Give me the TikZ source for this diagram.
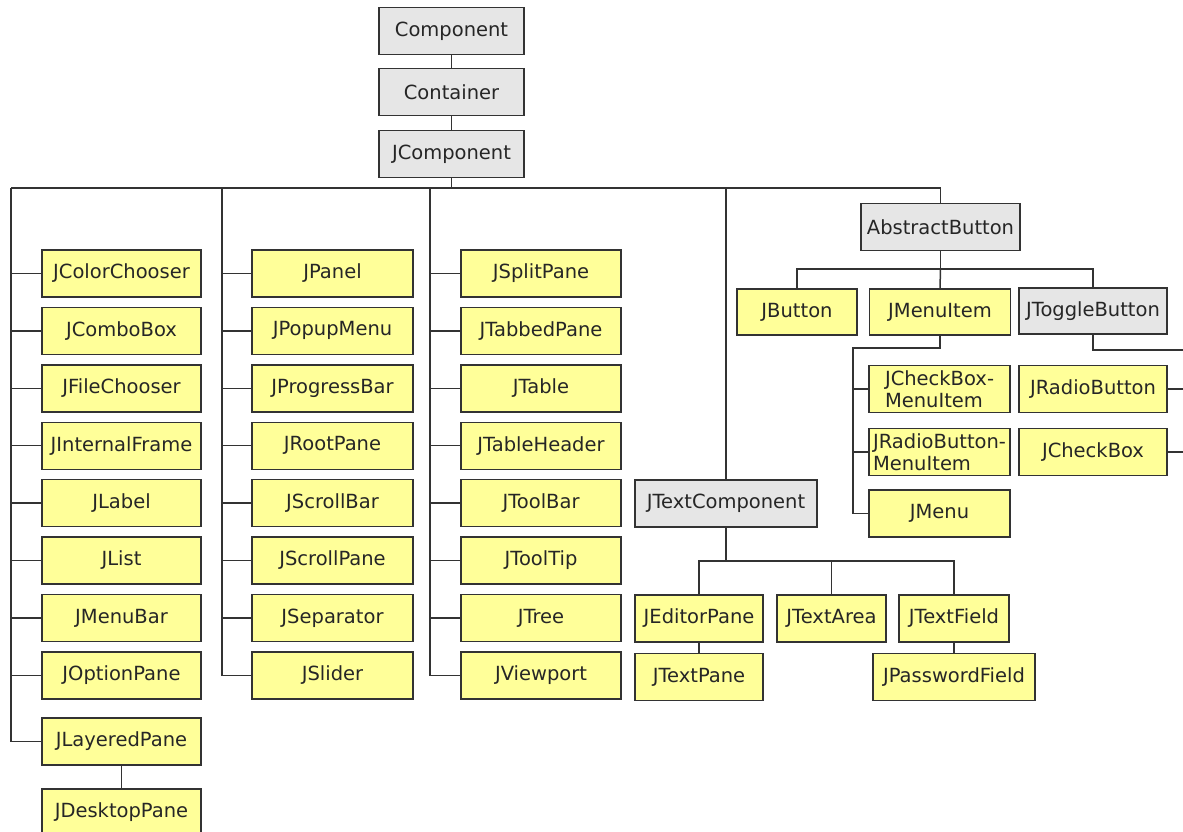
\documentclass[tikz,border=0pt]{standalone}
\usepackage{fontspec}
\newfontfamily\classfont{DejaVu Sans}
\definecolor{classyellow}{RGB}{255,255,153}
\definecolor{classgray}{RGB}{230,230,230}
\definecolor{edgegray}{RGB}{51,51,51}
\tikzset{
  cls/.style={draw=edgegray, line width=1.4pt, inner sep=0pt, minimum height=47pt,
    text=black!85, font=\classfont\fontsize{19.5}{21}\selectfont},
  ybox/.style={cls, fill=classyellow},
  gbox/.style={cls, fill=classgray},
  link/.style={draw=edgegray, line width=1.5pt}
}

\begin{document}
\begin{tikzpicture}[x=1pt,y=-1pt]
        \useasboundingbox[fill=white] (0,0) rectangle (1183,832);
        % top of the hierarchy
        \node[gbox, minimum width=145pt] (comp) at (451.5,31) {Component};
        \node[gbox, minimum width=145pt] (cont) at (451.5,92) {Container};
        \node[gbox, minimum width=145pt] (jcomp) at (451.5,154) {JComponent};
        \draw[link] (comp) -- (cont);
        \draw[link] (cont) -- (jcomp);
        \coordinate (bus) at (451.5,188);
        \coordinate (t1) at (11,188);
        \coordinate (t2) at (222,188);
        \coordinate (t3) at (430,188);
        \coordinate (t4) at (726,188);
        \coordinate (t5) at (940.5,188);
        \draw[link] (jcomp.south) -- (bus);
        \draw[link] (t1) -- (t5);

        % three plain columns
        \foreach \t [count=\i from 0] in {JColorChooser,JComboBox,JFileChooser,JInternalFrame,JLabel,JList,JMenuBar,JOptionPane}
        {
        \node[ybox, minimum width=159pt] (a\i) at (121.5,273.5+57.4*\i) {\t};
        \draw[link] (a\i.west) -- (a\i.west -| t1);
        }
        \foreach \t [count=\i from 0] in {JPanel,JPopupMenu,JProgressBar,JRootPane,JScrollBar,JScrollPane,JSeparator,JSlider}
        {
        \node[ybox, minimum width=161pt] (b\i) at (332.5,273.5+57.4*\i) {\t};
        \draw[link] (b\i.west) -- (b\i.west -| t2);
        }
        \foreach \t [count=\i from 0] in {JSplitPane,JTabbedPane,JTable,JTableHeader,JToolBar,JToolTip,JTree,JViewport}
        {
        \node[ybox, minimum width=160pt] (c\i) at (541,273.5+57.4*\i) {\t};
        \draw[link] (c\i.west) -- (c\i.west -| t3);
        }
        \node[ybox, minimum width=159pt] (lay) at (121.5,741.5) {JLayeredPane};
        \node[ybox, minimum width=159pt] (desk) at (121.5,812.5) {JDesktopPane};
        \draw[link] (lay) -- (desk);
        \draw[link] (t1) |- (lay.west);
        \draw[link] (t2) |- (b7.west);
        \draw[link] (t3) |- (c7.west);

        % text components
        \node[gbox, minimum width=182pt] (text) at (726,503.5) {JTextComponent};
        \draw[link] (t4) -- (text.north);
        \node[ybox, minimum width=128pt] (edit) at (699,618.5) {JEditorPane};
        \node[ybox, minimum width=109pt] (area) at (831.5,618.5) {JTextArea};
        \node[ybox, minimum width=110pt] (field) at (954,618.5) {JTextField};
        \node[ybox, minimum width=128pt] (tpane) at (699,677) {JTextPane};
        \node[ybox, minimum width=162pt] (pass) at (954,677) {JPasswordField};
        \coordinate (tbus) at (726,561);
        \draw[link] (text.south) -- (tbus);
        \draw[link] (edit.north) |- (field.north |- tbus) -- (field.north);
        \draw[link] (area.north) -- (area.north |- tbus);
        \draw[link] (edit) -- (tpane);
        \draw[link] (field) -- (pass);

        % buttons
        \node[gbox, minimum width=159pt] (abs) at (940.5,227) {AbstractButton};
        \draw[link] (t5) -- (abs.north);
        \node[ybox, minimum width=120pt, minimum height=46pt] (btn) at (797,312) {JButton};
        \node[ybox, minimum width=141pt, minimum height=46pt] (mitem) at (940,312) {JMenuItem};
        \node[gbox, minimum width=148pt, minimum height=46pt] (toggle) at (1093,311) {JToggleButton};
        \coordinate (bbus) at (940.5,269);
        \draw[link] (abs.south) -- (bbus);
        \draw[link] (btn.north) |- (toggle.north |- bbus) -- (toggle.north);
        \draw[link] (bbus) -- (mitem.north);
        \node[ybox, minimum width=141pt, align=left] (cbmi) at (939.5,389) {JCheckBox-\\[1pt]MenuItem};
        \node[ybox, minimum width=141pt, align=left] (rbmi) at (939.5,452) {JRadioButton-\\[1pt]MenuItem\hspace*{30pt}};
        \node[ybox, minimum width=141pt] (menu) at (939.5,513.5) {JMenu};
        \coordinate (mtrunk) at (853,348);
        \draw[link] (mitem.south) |- (mtrunk) |- (menu.west);
        \draw[link] (cbmi.west) -- (cbmi.west -| mtrunk);
        \draw[link] (rbmi.west) -- (rbmi.west -| mtrunk);
        \node[ybox, minimum width=148pt] (radio) at (1093,389) {JRadioButton};
        \node[ybox, minimum width=148pt] (check) at (1093,452) {JCheckBox};
        \coordinate (ttrunk) at (1190,350);
        \draw[link] (toggle.south) |- (ttrunk) |- (check.east);
        \draw[link] (radio.east) -- (radio.east -| ttrunk);
\end{tikzpicture}
\end{document}
